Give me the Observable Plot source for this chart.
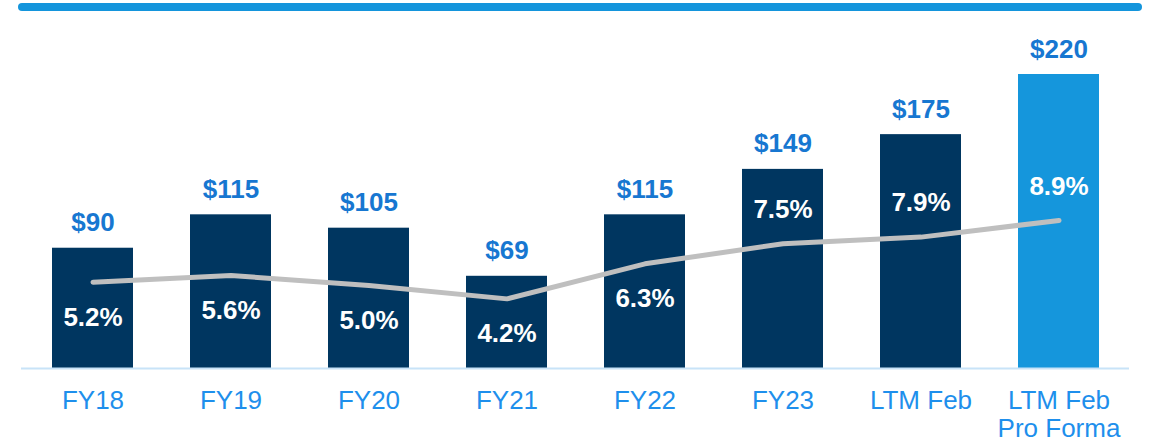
<!DOCTYPE html>
<html>
<head>
<meta charset="utf-8">
<script src="https://cdn.jsdelivr.net/npm/d3@7"></script>
<script src="https://cdn.jsdelivr.net/npm/@observablehq/plot@0.6"></script>
<style>
  html, body { margin: 0; padding: 0; background: #fff; }
  #wrap { position: relative; width: 1151px; height: 443px; overflow: hidden; }
  #topbar { position: absolute; left: 18px; top: 3px; width: 1124px; height: 8px; border-radius: 4px; background: #1495dc; }
  #chart { position: absolute; left: 0; top: 0; }
</style>
</head>
<body>
<div id="wrap"><div id="chart"></div><div id="topbar"></div></div>
<script>
const categories = ["FY18", "FY19", "FY20", "FY21", "FY22", "FY23", "LTM Feb", "LTM Feb Pro Forma"];
const tickLabels = ["FY18", "FY19", "FY20", "FY21", "FY22", "FY23", "LTM Feb", "LTM Feb\nPro Forma"];
const values = [90, 115, 105, 69, 115, 149, 175, 220];
const margins = [5.2, 5.6, 5.0, 4.2, 6.3, 7.5, 7.9, 8.9];
const proForma = "LTM Feb Pro Forma";
const labelsAbove = ["FY23", "LTM Feb", "LTM Feb Pro Forma"];

// map the margin % onto the bar axis (secondary scale)
const pctToY = p => 12.49 * p - 0.35;

const data = categories.map((c, i) => ({
  cat: c, label: tickLabels[i], value: values[i], pct: margins[i], py: pctToY(margins[i])
}));

const font = "'Liberation Sans', Arial, Helvetica, sans-serif";

const chart = Plot.plot({
  width: 1151,
  height: 443,
  marginLeft: 21,
  marginRight: 22,
  marginTop: 0,
  marginBottom: 75,
  style: { fontFamily: font, background: "transparent", overflow: "visible" },
  x: { domain: categories, range: [21, 1129], paddingInner: 0.415, paddingOuter: 0.2075, axis: null },
  y: { domain: [0, 220], range: [368, 74], axis: null },
  marks: [
    Plot.barY(data, {
      x: "cat", y: "value",
      fill: d => d.cat === proForma ? "#1596dc" : "#003660"
    }),
    Plot.ruleY([0], { stroke: "#c8e3f8", strokeWidth: 2 }),
    Plot.line(data, {
      x: "cat", y: "py", stroke: "#bfbfbf", strokeWidth: 5,
      strokeLinecap: "round", strokeLinejoin: "round"
    }),
    Plot.text(data, {
      x: "cat", y: "value", text: d => "$" + d.value,
      lineAnchor: "bottom", dy: -17, fill: "#1777d1",
      fontSize: 26, fontWeight: "bold"
    }),
    Plot.text(data.filter(d => !labelsAbove.includes(d.cat)), {
      x: "cat", y: "py", text: d => d.pct.toFixed(1) + "%",
      lineAnchor: "middle", dy: 35, fill: "#ffffff",
      fontSize: 26, fontWeight: "bold"
    }),
    Plot.text(data.filter(d => labelsAbove.includes(d.cat)), {
      x: "cat", y: "py", text: d => d.pct.toFixed(1) + "%",
      lineAnchor: "middle", dy: -34, fill: "#ffffff",
      fontSize: 26, fontWeight: "bold"
    }),
    Plot.axisX({
      domain: categories,
      tickSize: 0, tickPadding: 21,
      tickFormat: c => tickLabels[categories.indexOf(c)],
      fontSize: 26, fill: "#1e8fec", lineHeight: 1.07,
      label: null
    })
  ]
});
document.getElementById("chart").appendChild(chart);
</script>
</body>
</html>
